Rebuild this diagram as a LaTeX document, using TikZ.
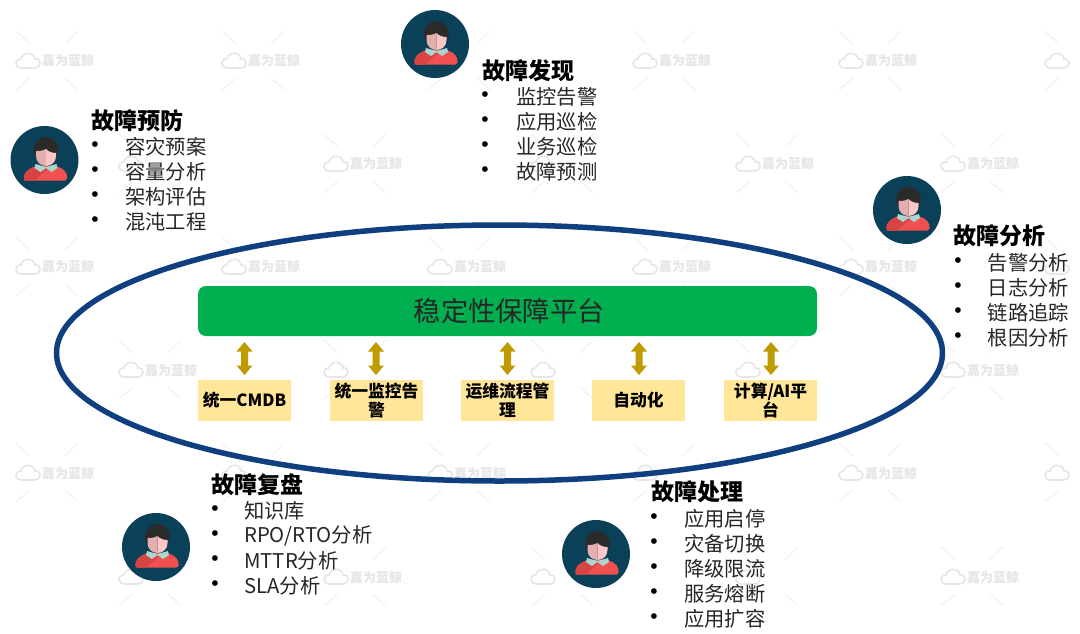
\documentclass[tikz,border=0pt]{standalone}
\usepackage{fontspec}
\setmainfont{Noto Sans CJK SC}
\newfontfamily\bulletfont{Liberation Sans}
\definecolor{ringblue}{HTML}{0F3F7F}
\definecolor{platgreen}{HTML}{00B050}
\definecolor{boxyellow}{HTML}{FFE699}
\definecolor{arrowgold}{HTML}{BF9A00}
\definecolor{icondisc}{HTML}{0B4059}
\definecolor{iconred}{HTML}{F0504F}
\definecolor{iconreddark}{HTML}{D84444}
\definecolor{iconcollar}{HTML}{A9D6CF}
\definecolor{iconhair}{HTML}{2A2A2A}
\definecolor{iconfaceL}{HTML}{E3AEAE}
\definecolor{iconfaceR}{HTML}{FCC6C6}
\definecolor{wmgray}{HTML}{E6E6E6}
\definecolor{wmline}{HTML}{F1F1F1}
\tikzset{
  x=1pt,y=-1pt,
  headtext/.style={anchor=west,inner sep=0pt,font=\fontsize{23}{23}\selectfont\bfseries,text=black},
  itemtext/.style={anchor=west,inner sep=0pt,font=\fontsize{20.3}{20.3}\selectfont,text=black!85},
  bulletmark/.style={anchor=center,inner sep=0pt,font=\fontsize{21}{21}\bulletfont,text=black},
  modulebox/.style={draw=none,fill=boxyellow,minimum width=93pt,minimum height=41pt,inner sep=0pt,align=center,
     font=\fontsize{16.8}{19}\selectfont\bfseries,text=black},
  watermark/.style={inner sep=0pt,font=\fontsize{13}{13}\selectfont\bfseries,text=wmgray},
}
\newcommand{\wmlogo}[2]{%
  \begin{scope}[shift={(#1+13,#2)}]
    \draw[wmline,line width=1pt] (-12,-30) -- (2,-17) (50,-30) -- (37,-17)
       (2,17) -- (-12,29) (37,17) -- (50,29);
    \draw[wmgray,line width=1.6pt] (-6,7) .. controls (-14,7) and (-14,-2) .. (-7,-2)
       .. controls (-6,-9) and (6,-10) .. (7,-2) .. controls (14,-3) and (14,7) .. (6,7) -- cycle;
  \end{scope}}
\newcommand{\wmtext}[2]{\node[watermark] at (#1+53,#2) {嘉为蓝鲸};}
\newcommand{\goldarrow}[2]{%
  \coordinate (#1) at (#2);
  \fill[arrowgold,shift={(#1)}] (0,-16.5) -- (8,-7) -- (3.5,-7) -- (3.5,7) -- (8,7) -- (0,16.5)
    -- (-8,7) -- (-3.5,7) -- (-3.5,-7) -- (-8,-7) -- cycle;}
\newcommand{\personicon}[2]{%
  \node[circle,fill=icondisc,minimum size=68pt,inner sep=0pt] (#1) at (#2) {};
  \begin{scope}[shift={(#2)}]
    \fill[iconred,rounded corners=2pt] (-20.5,20.5) .. controls (-21,13) and (-17,9) .. (-8,6) -- (11,6)
      .. controls (20,9) and (23,13) .. (22.5,20.5) -- cycle;
    \fill[iconreddark] (-20.5,20.5) .. controls (-21,13) and (-17,9) .. (-8,6) -- (-3,8) -- (3,9) -- (-10,20.5) -- cycle;
    \fill[iconhair] (1.5,-10.5) circle (12.5);
    \fill[iconcollar] (-9,4) -- (1.5,7) -- (12,4) -- (13,8) -- (7,12) -- (1.5,8) -- (-4,12) -- (-10,8) -- cycle;
    \fill[iconfaceL] (1.5,-11) .. controls (-2,-9) and (-6,-9) .. (-8.5,-9) -- (-8.5,-4)
       .. controls (-8.5,2) and (-4,6) .. (1.5,6) -- cycle;
    \fill[iconfaceR] (1.5,-11) .. controls (4,-8) and (8,-7) .. (11.5,-7) -- (11.5,-4)
       .. controls (11.5,2) and (7,6) .. (1.5,6) -- cycle;
  \end{scope}}
\newcommand{\listrow}[5]{%
  \node[bulletmark] (#1b) at (#2,#4) {•};
  \node[itemtext] (#1) at (#3,#4) {#5};}
\begin{document}
\begin{tikzpicture}
\useasboundingbox (0,0) rectangle (1080,633);
\fill[white] (0,0) rectangle (1080,633);
\foreach \wx in {15,221,427,632,838,1044}{\foreach \wy in {61,267,473}{\wmlogo{\wx}{\wy}}}
\foreach \wx in {118,323,530,735,940}{\foreach \wy in {164,370,577}{\wmlogo{\wx}{\wy}}}
\wmtext{15}{61}\wmtext{221}{61}\wmtext{632}{61}\wmtext{838}{61}
\wmtext{15}{267}\wmtext{221}{267}\wmtext{427}{267}\wmtext{632}{267}\wmtext{838}{267}
\wmtext{15}{473}\wmtext{427}{473}\wmtext{838}{473}
\wmtext{323}{164}\wmtext{735}{164}\wmtext{940}{164}
\wmtext{118}{370}\wmtext{940}{370}
\wmtext{323}{577}\wmtext{940}{577}
\coordinate (ringc) at (499.5,353);
\draw[ringblue,line width=5.5pt] (ringc) ellipse [x radius=443,y radius=128];
\node[fill=platgreen,rounded corners=8pt,minimum width=619pt,minimum height=50pt,inner sep=0pt,
      font=\fontsize{27.3}{27.3}\selectfont,text=black!85] (plat) at (507.5,311) {\hspace*{3.5pt}稳定性保障平台};
\node[modulebox] (m1) at (244.5,400.5) {\raisebox{-0.7pt}{统一CMDB}};
\node[modulebox] (m2) at (376.5,400.5) {统一监控告\\警};
\node[modulebox] (m3) at (507.5,400.5) {运维流程管\\理};
\node[modulebox] (m4) at (638.5,400.5) {\raisebox{-0.7pt}{自动化}};
\node[modulebox] (m5) at (770.5,400.5) {计算/AI平\\台};
\goldarrow{a1}{244.5,358.5}
\goldarrow{a2}{376,358.5}
\goldarrow{a3}{507.5,358.5}
\goldarrow{a4}{639,358.5}
\goldarrow{a5}{771,358.5}
\personicon{p1}{44.5,160}
\personicon{p2}{435,44}
\personicon{p3}{907,210}
\personicon{p4}{156,547}
\personicon{p5}{596,554}
\node[headtext] (h1) at (91,120.5) {故障预防};
\listrow{a1i}{95}{125}{146.5}{容灾预案}
\listrow{a2i}{95}{125}{171.5}{容量分析}
\listrow{a3i}{95}{125}{196.5}{架构评估}
\listrow{a4i}{95}{125}{221.5}{混沌工程}
\node[headtext] (h2) at (482,70.5) {故障发现};
\listrow{b1i}{485}{516}{96.5}{监控告警}
\listrow{b2i}{485}{516}{121.5}{应用巡检}
\listrow{b3i}{485}{516}{146.5}{业务巡检}
\listrow{b4i}{485}{516}{171.5}{故障预测}
\node[headtext] (h3) at (953.5,235.5) {故障分析};
\listrow{c1i}{958}{987.5}{262.5}{告警分析}
\listrow{c2i}{958}{987.5}{287.5}{日志分析}
\listrow{c3i}{958}{987.5}{312.5}{链路追踪}
\listrow{c4i}{958}{987.5}{337.5}{根因分析}
\node[headtext] (h4) at (211,484.5) {故障复盘};
\listrow{d1i}{215}{244}{510.5}{知识库}
\listrow{d2i}{215}{244}{535.5}{RPO/RTO分析}
\listrow{d3i}{215}{244}{560.5}{MTTR分析}
\listrow{d4i}{215}{244}{585.5}{SLA分析}
\node[headtext] (h5) at (651,491.5) {故障处理};
\listrow{e1i}{654}{684}{518.5}{应用启停}
\listrow{e2i}{654}{684}{543.5}{灾备切换}
\listrow{e3i}{654}{684}{568.5}{降级限流}
\listrow{e4i}{654}{684}{593.5}{服务熔断}
\listrow{e5i}{654}{684}{618.5}{应用扩容}
\end{tikzpicture}
\end{document}
